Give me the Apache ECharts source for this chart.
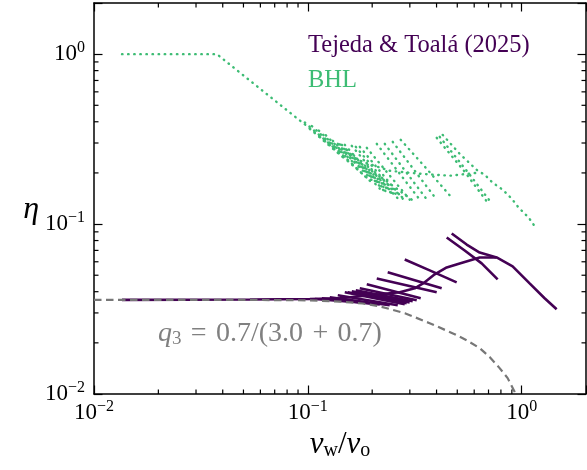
<!DOCTYPE html>
<html><head><meta charset="utf-8">
<script src="https://cdn.jsdelivr.net/npm/echarts@6/dist/echarts.min.js"></script>
<style>html,body{margin:0;padding:0;background:#fff}#c{width:587px;height:470px}</style>
</head><body><div id="c"></div>
<script>
// ---------- axis ticks ----------
const majorTicks = [0.01, 0.1, 1];
const minorTicks = [0.02,0.03,0.04,0.05,0.06,0.07,0.08,0.09,0.2,0.3,0.4,0.5,0.6,0.7,0.8,0.9];

// ---------- BHL (dotted) ----------
const bhlMain = [[0.01352,1.0],[0.03757,1.0],[0.0898,0.4157],[0.1267,0.2966],[0.1750,0.2358],[0.2416,0.2060],[0.3337,0.1978],[0.4608,0.1925],[0.6228,0.2005]];
const bhlLong = [[0.4274,0.3348],[0.5132,0.2591],[0.6228,0.2060],[0.6716,0.1952],[0.7319,0.1752],[0.8151,0.1593],[0.8980,0.1412],[0.9682,0.1250],[1.0783,0.1092],[1.1627,0.0954]];
const bhlStrands = [
  [[0.1022,0.3631],[0.1489,0.2422]],
  [[0.1138,0.3260],[0.1750,0.2060]],
  [[0.1201,0.3089],[0.1887,0.1874]],
  [[0.1267,0.3007],[0.1992,0.1752]],
  [[0.1381,0.2966],[0.2193,0.1593]],
  [[0.1442,0.2927],[0.2290,0.1551]],
  [[0.1489,0.2927],[0.2364,0.1510]],
  [[0.1605,0.2886],[0.2550,0.1450]],
  [[0.1676,0.2848],[0.2662,0.1431]],
  [[0.1750,0.2848],[0.2779,0.1412]],
  [[0.1887,0.2810],[0.2996,0.1393]],
  [[0.2101,0.2966],[0.3337,0.1393]],
  [[0.2290,0.2966],[0.3637,0.1374]],
  [[0.2495,0.3048],[0.4007,0.1393]],
  [[0.2720,0.3131],[0.3560,0.2145],[0.4709,0.1431]],
  [[0.4007,0.3217],[0.5416,0.2032],[0.6936,0.1337]],
  [[0.4138,0.3260],[0.5533,0.2060],[0.7087,0.1374]]
];
// short strands packed along the dense diagonal band
const bhlDense = [
  [[0.09682,0.3960],[0.13369,0.2791]],
  [[0.10441,0.3772],[0.14417,0.2589]],
  [[0.11254,0.3549],[0.15545,0.2400]],
  [[0.12137,0.3335],[0.16762,0.2226]],
  [[0.13084,0.3093],[0.18073,0.2064]],
  [[0.14110,0.2946],[0.19486,0.1915]],
  [[0.15214,0.2733],[0.21010,0.1776]],
  [[0.16405,0.2535],[0.22654,0.1647]],
  [[0.17688,0.2350],[0.24427,0.1528]],
  [[0.19071,0.2180],[0.26338,0.1417]],
  [[0.20564,0.2021],[0.28397,0.1392]],
  [[0.22172,0.1875],[0.30620,0.1392]]
];

// ---------- Tejeda & Toalá (2025) (solid) ----------
const ttMain = [[0.01352,0.0358],[0.05358,0.0360],[0.1022,0.0362],[0.1411,0.0366],[0.1949,0.0381],[0.2691,0.0397],[0.3162,0.0419],[0.3522,0.0454],[0.3922,0.0506],[0.4462,0.0556],[0.5132,0.0587],[0.6364,0.0636],[0.7641,0.0636],[0.9076,0.0564],[1.090,0.0448],[1.281,0.0366],[1.458,0.0315]];
const ttUpperA = [[0.4462,0.0833],[0.5416,0.0699],[0.6503,0.0587],[0.7723,0.0473]];
const ttUpperB = [[0.4709,0.0880],[0.5533,0.0758],[0.6364,0.0680],[0.7641,0.0636]];
const ttStrands = [
  [[0.2840,0.0619],[0.3716,0.0534],[0.4968,0.0454]],
  [[0.2364,0.0520],[0.4228,0.0419]],
  [[0.2101,0.0479],[0.4007,0.0397]],
  [[0.1887,0.0442],[0.3373,0.0366]],
  [[0.1750,0.0419],[0.3231,0.0356]],
  [[0.1676,0.0408],[0.3094,0.0351]],
  [[0.1605,0.0402],[0.2996,0.0346]],
  [[0.1538,0.0397],[0.2901,0.0342]],
  [[0.1489,0.0397],[0.2840,0.0337]],
  [[0.1381,0.0381],[0.2634,0.0333]],
  [[0.1267,0.0371],[0.2416,0.0333]],
  [[0.1163,0.0366],[0.2170,0.0337]],
  [[0.1079,0.0362],[0.1949,0.0342]]
];

// ---------- q3^2 reference curve (dashed) ----------
const q3Curve = [[0.01,0.0358],[0.05,0.0358],[0.1,0.0356],[0.1411,0.0350],[0.18,0.0341],[0.217,0.0328],[0.2842,0.0299],[0.3715,0.0261],[0.4863,0.0225],[0.5534,0.0207],[0.637,0.0186],[0.7087,0.0165],[0.789,0.0142],[0.8603,0.0124],[0.927,0.0103],[0.958,0.0092]];

const TT = 'Tejeda & Toalá (2025)', BHL = 'BHL';
const PURPLE = '#440154', GREEN = '#3dbc74', GRAYL = '#777777', GRAYT = '#808080';
const F = '"Liberation Serif", "DejaVu Serif", serif';

function powLabel(v) {
  const l = Math.log10(v), e = Math.round(l);
  if (Math.abs(l - e) > 1e-6) return '';
  return '{b|10}{s|' + (e < 0 ? '\u2212' + (-e) : String(e)) + '}';
}
const labelRich = {
  b: {fontFamily: F, fontSize: 23, color: '#000'},
  s: {fontFamily: F, fontSize: 16, color: '#000', padding: [0, 0, 12, 0]}
};

const series = [];
const dotted = {color: GREEN, width: 2.4, type: [0.5, 5.6], cap: 'round'};
const solid = {color: PURPLE, width: 2.6};
function addLine(name, data, ls, extra) {
  series.push(Object.assign({type: 'line', name: name, data: data, symbol: 'none', showSymbol: false,
    lineStyle: ls, itemStyle: {color: ls.color}, silent: true, animation: false}, extra || {}));
}
addLine(BHL, bhlMain, dotted, {z: 2});
addLine(BHL, bhlLong, dotted, {z: 2});
bhlStrands.forEach(s => addLine(BHL, s, dotted, {z: 2}));
bhlDense.forEach(s => addLine(BHL, s, dotted, {z: 2}));
addLine(TT, ttMain, solid, {z: 3});
addLine(TT, ttUpperA, solid, {z: 3});
addLine(TT, ttUpperB, solid, {z: 3});
ttStrands.forEach(s => addLine(TT, s, solid, {z: 3}));
addLine('q3', q3Curve, {color: GRAYL, width: 2.2, type: [7.5, 4.5]}, {z: 4});

// minor ticks (all four sides), placed through the axes' own scales
const tickStyle = {stroke: '#000', lineWidth: 1.2};
series.push({type: 'custom', silent: true, animation: false, z: 10, clip: false,
  data: minorTicks.map(v => [v, 1]),
  renderItem: function (params, api) {
    const cs = params.coordSys, x = api.coord([api.value(0), 1])[0], L = 4.5;
    return {type: 'group', children: [
      {type: 'line', shape: {x1: x, y1: cs.y + cs.height, x2: x, y2: cs.y + cs.height - L}, style: tickStyle},
      {type: 'line', shape: {x1: x, y1: cs.y, x2: x, y2: cs.y + L}, style: tickStyle}]};
  }});
series.push({type: 'custom', silent: true, animation: false, z: 10, clip: false,
  data: minorTicks.map(v => [0.1, v]),
  renderItem: function (params, api) {
    const cs = params.coordSys, y = api.coord([0.1, api.value(1)])[1], L = 4.5;
    return {type: 'group', children: [
      {type: 'line', shape: {x1: cs.x, y1: y, x2: cs.x + L, y2: y}, style: tickStyle},
      {type: 'line', shape: {x1: cs.x + cs.width, y1: y, x2: cs.x + cs.width - L, y2: y}, style: tickStyle}]};
  }});

function logAxis(pos, showLabel, extra) {
  return Object.assign({
    type: 'log', logBase: 10, min: 0.01, max: 2, position: pos,
    axisLine: {show: true, onZero: false, lineStyle: {color: '#000', width: 1.5}},
    axisTick: {show: true, inside: true, length: 8.5, lineStyle: {color: '#000', width: 1.2}},
    minorTick: {show: false}, splitLine: {show: false}, minorSplitLine: {show: false},
    axisLabel: {show: showLabel, formatter: powLabel, rich: labelRich, hideOverlap: false}
  }, extra || {});
}

const chart = echarts.init(document.getElementById('c'), null, {renderer: 'canvas', width: 587, height: 470});
chart.setOption({
  animation: false,
  backgroundColor: '#fff',
  grid: {left: 94, right: 1, top: 3, bottom: 76, containLabel: false, outerBoundsMode: 'none'},
  xAxis: [
    logAxis('bottom', true, {
      axisLabel: {show: true, formatter: powLabel, rich: labelRich, margin: 5, hideOverlap: false},
      name: '{i|v}{s|w}{n|/}{i|v}{s|o}', nameLocation: 'middle', nameGap: 25,
      nameTextStyle: {rich: {
        i: {fontFamily: F, fontStyle: 'italic', fontSize: 31, color: '#000'},
        n: {fontFamily: F, fontSize: 31, color: '#000'},
        s: {fontFamily: F, fontSize: 20, color: '#000', padding: [12, 0, 0, 0]}}}
    }),
    logAxis('top', false)
  ],
  yAxis: [
    logAxis('left', true, {
      axisLabel: {show: true, formatter: powLabel, rich: labelRich, margin: 9, hideOverlap: false},
      name: 'η', nameLocation: 'middle', nameGap: 54, nameRotate: 0,
      nameTextStyle: {fontFamily: F, fontStyle: 'italic', fontSize: 32, color: '#000', verticalAlign: 'top', lineHeight: 22}
    }),
    logAxis('right', false)
  ],
  legend: {
    data: [{name: TT, textStyle: {color: PURPLE}}, {name: BHL, textStyle: {color: GREEN}}],
    icon: 'none', orient: 'vertical', left: 297, top: 28, itemWidth: 1, itemHeight: 10, itemGap: 9,
    selectedMode: false,
    textStyle: {fontFamily: F, fontSize: 24.5, lineHeight: 26}
  },
  graphic: [{
    type: 'text', left: 158, top: 320, silent: true,
    style: {
      text: '{i|q}{s|3}{n|\u2004=\u20040.7/(3.0\u2004+\u20040.7)}',
      rich: {
        i: {fontFamily: F, fontStyle: 'italic', fontSize: 28, fill: GRAYT},
        s: {fontFamily: F, fontSize: 19, fill: GRAYT, padding: [11, 0, 0, 0]},
        n: {fontFamily: F, fontSize: 28, fill: GRAYT}
      }
    }
  }],
  series: series
});
</script></body></html>
